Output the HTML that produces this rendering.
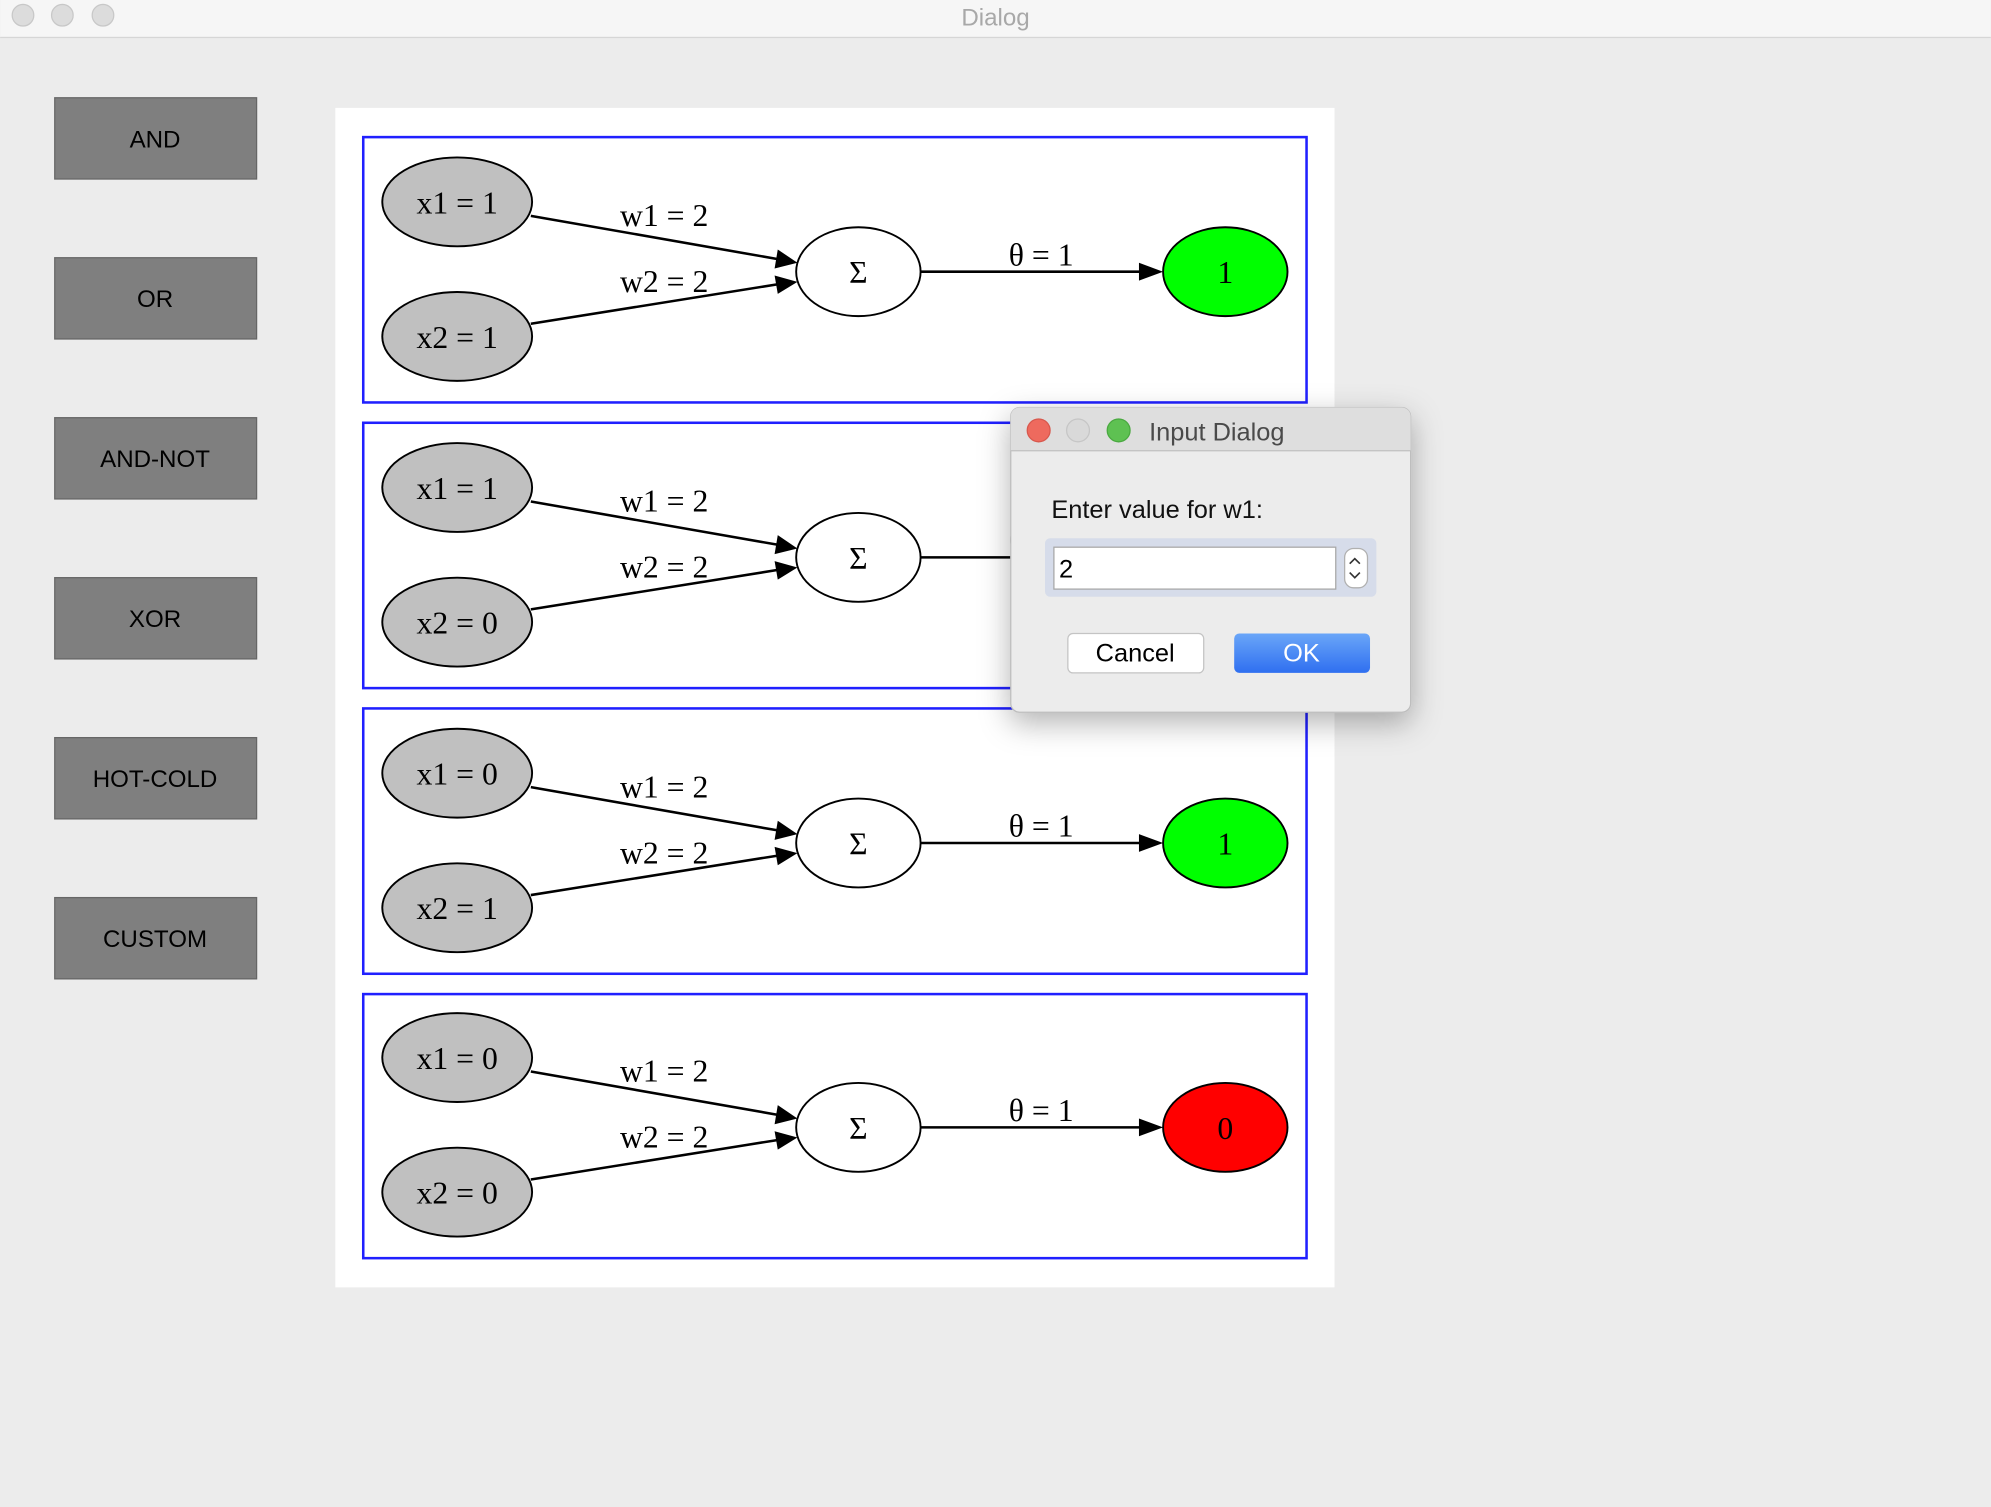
<!DOCTYPE html>
<html><head><meta charset="utf-8"><style>
html,body{margin:0;padding:0;background:#ececec;}
svg{display:block;}
.s{font-family:"Liberation Serif",serif;font-size:25px;fill:#000;}
.b{font-family:"Liberation Sans",sans-serif;font-size:19px;fill:#000;}
</style></head><body>
<svg width="1991" height="1507" viewBox="0 0 1568 1187" xmlns="http://www.w3.org/2000/svg">
<defs>
<filter id="sh" x="-20%" y="-20%" width="140%" height="150%"><feDropShadow dx="0" dy="8" stdDeviation="12" flood-color="#000" flood-opacity="0.3"/></filter>
<linearGradient id="ok" x1="0" y1="0" x2="0" y2="1"><stop offset="0" stop-color="#6aa6f8"/><stop offset="1" stop-color="#2f6ff0"/></linearGradient>
<g id="net">
<ellipse cx="360" cy="52" rx="59" ry="35" fill="#c0c0c0" stroke="#000" stroke-width="1.5"/>
<ellipse cx="360" cy="158" rx="59" ry="35" fill="#c0c0c0" stroke="#000" stroke-width="1.5"/>
<ellipse cx="676" cy="107" rx="49" ry="35" fill="#fff" stroke="#000" stroke-width="1.5"/>
<line x1="418" y1="63" x2="612" y2="97" stroke="#000" stroke-width="2"/>
<path d="M628,100 L610,104.5 L612.5,89.5 Z" fill="#000"/>
<line x1="418" y1="148" x2="612" y2="117" stroke="#000" stroke-width="2"/>
<path d="M628,115 L612.5,124.5 L610,110 Z" fill="#000"/>
<line x1="725" y1="107" x2="900" y2="107" stroke="#000" stroke-width="2"/>
<path d="M916,107 L897,114 L897,100 Z" fill="#000"/>
<text class="s" x="523" y="71" text-anchor="middle">w1 = 2</text>
<text class="s" x="523" y="123" text-anchor="middle">w2 = 2</text>
<text class="s" x="820" y="102" text-anchor="middle">θ = 1</text>
<text class="s" x="676" y="116" text-anchor="middle">Σ</text>
</g>
</defs>
<rect x="0" y="0" width="1568" height="29" fill="#f6f6f6"/>
<line x1="0" y1="29.5" x2="1568" y2="29.5" stroke="#d6d6d6"/>
<circle cx="18" cy="12" r="8.5" fill="#dcdcdc" stroke="#c8c8c8"/>
<circle cx="49" cy="12" r="8.5" fill="#dcdcdc" stroke="#c8c8c8"/>
<circle cx="81" cy="12" r="8.5" fill="#dcdcdc" stroke="#c8c8c8"/>
<text x="784" y="20" text-anchor="middle" font-family="Liberation Sans,sans-serif" font-size="19" fill="#a8a8a8">Dialog</text>

<g>
<rect x="43" y="77" width="159" height="64" fill="#7f7f7f" stroke="#666"/>
<text class="b" x="122" y="116" text-anchor="middle">AND</text>
<rect x="43" y="203" width="159" height="64" fill="#7f7f7f" stroke="#666"/>
<text class="b" x="122" y="242" text-anchor="middle">OR</text>
<rect x="43" y="329" width="159" height="64" fill="#7f7f7f" stroke="#666"/>
<text class="b" x="122" y="368" text-anchor="middle">AND-NOT</text>
<rect x="43" y="455" width="159" height="64" fill="#7f7f7f" stroke="#666"/>
<text class="b" x="122" y="494" text-anchor="middle">XOR</text>
<rect x="43" y="581" width="159" height="64" fill="#7f7f7f" stroke="#666"/>
<text class="b" x="122" y="620" text-anchor="middle">HOT-COLD</text>
<rect x="43" y="707" width="159" height="64" fill="#7f7f7f" stroke="#666"/>
<text class="b" x="122" y="746" text-anchor="middle">CUSTOM</text>
</g>

<rect x="264" y="85" width="787" height="929" fill="#fff"/>

<rect x="286" y="108" width="743" height="209" fill="#fff" stroke="#2020ff" stroke-width="2"/>
<g transform="translate(0,107)"><use href="#net"/>
<text class="s" x="360" y="61" text-anchor="middle">x1 = 1</text><text class="s" x="360" y="167" text-anchor="middle">x2 = 1</text>
<ellipse cx="965" cy="107" rx="49" ry="35" fill="#00ff00" stroke="#000" stroke-width="1.5"/><text class="s" x="965" y="116" text-anchor="middle">1</text></g>
<rect x="286" y="333" width="743" height="209" fill="#fff" stroke="#2020ff" stroke-width="2"/>
<g transform="translate(0,332)"><use href="#net"/>
<text class="s" x="360" y="61" text-anchor="middle">x1 = 1</text><text class="s" x="360" y="167" text-anchor="middle">x2 = 0</text>
<ellipse cx="965" cy="107" rx="49" ry="35" fill="#ff0000" stroke="#000" stroke-width="1.5"/></g>
<rect x="286" y="558" width="743" height="209" fill="#fff" stroke="#2020ff" stroke-width="2"/>
<g transform="translate(0,557)"><use href="#net"/>
<text class="s" x="360" y="61" text-anchor="middle">x1 = 0</text><text class="s" x="360" y="167" text-anchor="middle">x2 = 1</text>
<ellipse cx="965" cy="107" rx="49" ry="35" fill="#00ff00" stroke="#000" stroke-width="1.5"/><text class="s" x="965" y="116" text-anchor="middle">1</text></g>
<rect x="286" y="783" width="743" height="208" fill="#fff" stroke="#2020ff" stroke-width="2"/>
<g transform="translate(0,781)"><use href="#net"/>
<text class="s" x="360" y="61" text-anchor="middle">x1 = 0</text><text class="s" x="360" y="167" text-anchor="middle">x2 = 0</text>
<ellipse cx="965" cy="107" rx="49" ry="35" fill="#ff0000" stroke="#000" stroke-width="1.5"/><text class="s" x="965" y="116" text-anchor="middle">0</text></g>

<g>
<rect x="796" y="321" width="315" height="240" rx="7" fill="#ececec" stroke="#bdbdbd" filter="url(#sh)"/>
<path d="M803,321 H1104 A7,7 0 0 1 1111,328 V355 H796 V328 A7,7 0 0 1 803,321 Z" fill="#dedede"/>
<line x1="796" y1="355" x2="1111" y2="355" stroke="#c0c0c0"/>
<circle cx="818" cy="339" r="9" fill="#ee6a5e" stroke="#d8584d"/>
<circle cx="849" cy="339" r="9" fill="#d9d9d9" stroke="#c6c6c6"/>
<circle cx="881" cy="339" r="9" fill="#5ec152" stroke="#4aa940"/>
<text x="905" y="347" font-family="Liberation Sans,sans-serif" font-size="20" fill="#4a4a4a">Input Dialog</text>
<text x="828" y="408" font-family="Liberation Sans,sans-serif" font-size="20" fill="#111">Enter value for w1:</text>
<rect x="823" y="424" width="261" height="46" rx="4" fill="#d6dcea"/>
<rect x="830" y="431" width="222" height="33" fill="#fff" stroke="#a8a8a8"/>
<text x="834" y="455" font-family="Liberation Sans,sans-serif" font-size="20" fill="#000">2</text>
<rect x="1059" y="432" width="18" height="31" rx="7" fill="#fff" stroke="#b0b0b0"/>
<path d="M1063,444 l4,-4 l4,4 M1063,451 l4,4 l4,-4" fill="none" stroke="#333" stroke-width="1.3"/>
<rect x="841" y="499" width="107" height="31" rx="4" fill="#fff" stroke="#c4c4c4"/>
<text x="894" y="521" text-anchor="middle" font-family="Liberation Sans,sans-serif" font-size="20" fill="#000">Cancel</text>
<rect x="972" y="499" width="107" height="31" rx="4" fill="url(#ok)"/>
<text x="1025" y="521" text-anchor="middle" font-family="Liberation Sans,sans-serif" font-size="20" fill="#fff">OK</text>
</g>
</svg>
</body></html>
